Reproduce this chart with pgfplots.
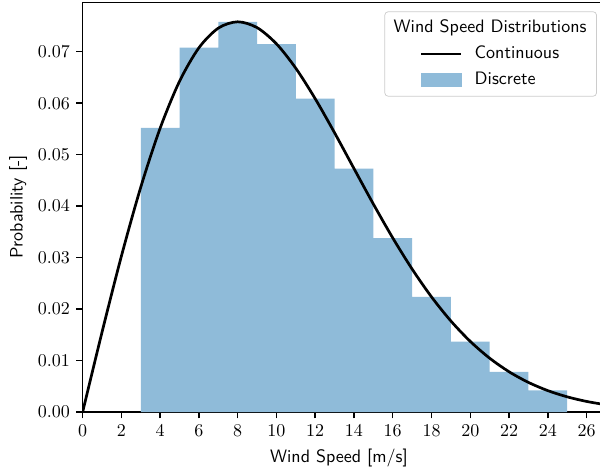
\documentclass[border=0pt]{standalone}
\usepackage{pgfplots}
\pgfplotsset{compat=1.18}
\definecolor{barblue}{RGB}{143,187,217}
\definecolor{legedge}{RGB}{204,204,204}
\begin{document}
\begin{tikzpicture}
\begin{axis}[
  scale only axis,
  width=290.7pt, height=227.6pt,
  xmin=0, xmax=27, ymin=0, ymax=0.0796,
  xtick={0,2,...,26},
  ytick={0,0.01,...,0.07},
  scaled y ticks=false,
  yticklabel style={/pgf/number format/fixed,/pgf/number format/fixed zerofill,/pgf/number format/precision=2},
  tick align=outside, tick pos=left,
  major tick length=3.5pt,
  every tick/.style={black, line width=0.8pt},
  axis line style={line width=0.8pt},
  xlabel={\sffamily Wind Speed [m/s]},
  ylabel={\sffamily Probability [-]},
  xlabel style={at={(axis description cs:0.4898,-0.1125)}, anchor=center},
  ylabel style={at={(axis description cs:-0.1231,0.5)}, anchor=center},
  legend style={at={(1,1)}, anchor=north east, xshift=-5pt, yshift=-5pt,
    draw=legedge, rounded corners=2pt, fill=white, inner xsep=4.6pt, inner ysep=3.5pt,
    column sep=0pt, row sep=3.5pt, font=\sffamily,
    nodes={inner sep=1pt, text height=7pt, text depth=2pt}},
  legend cell align=left,
]
\addplot[const plot, fill=barblue, draw=none, forget plot] coordinates {
  (3,0.0552) (5,0.0708) (7,0.0758) (9,0.0715) (11,0.0609) (13,0.0473)
  (15,0.0338) (17,0.0224) (19,0.0137) (21,0.0078) (23,0.0042) (25,0.0042)
} \closedcycle;
\addplot[black, line width=1.5pt, smooth, forget plot] coordinates {
  (0,0) (1,0.015503) (2,0.030288) (3,0.043692) (4,0.055156) (5,0.064264)
  (6,0.070766) (7,0.074587) (8,0.075816) (9,0.074686) (10,0.071536)
  (11,0.066786) (12,0.060872) (13,0.054247) (14,0.047309) (15,0.040413)
  (16,0.033834) (17,0.027782) (18,0.022374) (19,0.017691) (20,0.013730)
  (21,0.010466) (22,0.007835) (23,0.005763) (24,0.004166) (25,0.002960)
  (26,0.002066) (27,0.001419)
};
\addlegendimage{empty legend}
\addlegendentry{\hspace{-45pt}Wind Speed Distributions}
\addlegendimage{legend image code/.code={\path (0pt,0pt) (44pt,0pt); \draw[black, line width=1.5pt, sharp corners] (15.6pt,0pt) -- (37.6pt,0pt);}}
\addlegendentry{Continuous}
\addlegendimage{legend image code/.code={\path (0pt,0pt) (44pt,0pt); \fill[barblue, sharp corners] (15.6pt,-3.5pt) rectangle (37.6pt,3.5pt);}}
\addlegendentry{Discrete}
\end{axis}
\pgfresetboundingbox
\useasboundingbox ([shift={(-45.9pt,-33.3pt)}]current axis.south west) rectangle ([shift={(287.4pt,1.3pt)}]current axis.north west);
\end{tikzpicture}
\end{document}
